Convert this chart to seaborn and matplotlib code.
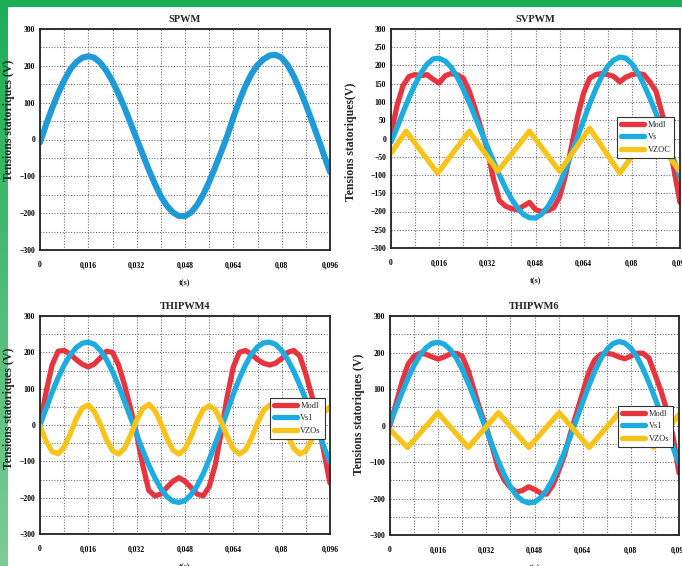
import matplotlib
matplotlib.use('Agg')
import matplotlib.pyplot as plt
import numpy as np
import pandas as pd
import seaborn as sns
from matplotlib.patches import Rectangle

# time grid (s), read every 2 ms off the curves
t = [round(i * 0.002, 3) for i in range(49)]

# SPWM
spwm_vs = [-8, 40, 85, 125, 160, 190, 210, 222, 226, 222, 208, 186, 158, 124, 86, 44,
           2, -40, -82, -120, -154, -180, -198, -208, -208, -198, -178, -150, -115, -75, -33, 10,
           60, 105, 145, 178, 202, 218, 228, 230, 222, 202, 172, 135, 95, 50, 5, -42, -88]

# SVPWM
svpwm_mod = [10, 90, 145, 170, 175, 172, 175, 162, 152, 172, 178, 175, 165, 130, 80, 25,
             -30, -110, -170, -185, -192, -195, -185, -175, -195, -200, -198, -190, -160, -100, -20, 60,
             125, 165, 175, 178, 175, 170, 155, 168, 175, 178, 175, 155, 130, 70, 0, -85, -175]
svpwm_vs = [-10, 30, 72, 112, 148, 180, 204, 218, 220, 212, 195, 168, 135, 98, 58, 18,
            -22, -62, -100, -135, -165, -190, -208, -217, -218, -208, -188, -160, -125, -85, -40, 5,
            50, 95, 135, 170, 198, 215, 223, 220, 205, 180, 148, 110, 70, 28, -15, -60, -105]
svpwm_zs_t = [0, 0.005, 0.0155, 0.026, 0.0355, 0.046, 0.056, 0.066, 0.076, 0.086, 0.096]
svpwm_zs = [-40, 20, -95, 20, -90, 20, -90, 28, -95, 20, -90]

# THIPWM4
thi4_mod = [0, 90, 165, 203, 205, 195, 180, 167, 160, 168, 185, 203, 200, 165, 110, 45,
            -25, -110, -180, -195, -190, -172, -155, -145, -155, -172, -190, -195, -170, -110, -20, 80,
            160, 200, 205, 195, 180, 170, 165, 170, 183, 200, 205, 190, 140, 80, 10, -75, -160]
thi4_vs = [0, 45, 90, 130, 165, 193, 213, 225, 228, 222, 205, 180, 147, 108, 65, 20,
           -25, -70, -110, -145, -175, -197, -210, -213, -208, -192, -168, -135, -95, -52, -8, 38,
           85, 128, 165, 195, 215, 226, 228, 222, 205, 180, 148, 110, 70, 28, -15, -60, -103]
thi4_zs = [-3, -44, -73, -79, -61, -24, 17, 47, 55, 37, 1, -40, -71, -80, -64, -28,
           13, 45, 57, 40, 5, -36, -69, -80, -66, -32, 9, 42, 53, 42, 9, -32,
           -66, -80, -69, -36, 5, 40, 55, 45, 13, -28, -64, -80, -71, -40, 1, 35, 50]

# THIPWM6
thi6_mod = [0, 60, 120, 168, 190, 198, 195, 188, 182, 188, 196, 198, 190, 150, 95, 40,
            -5, -60, -118, -150, -170, -182, -178, -168, -175, -185, -188, -165, -125, -80, -20, 35,
            90, 145, 180, 195, 198, 195, 188, 183, 190, 198, 198, 185, 140, 95, 40, -30, -130]
thi6_vs = [5, 48, 90, 130, 165, 193, 213, 225, 228, 223, 208, 185, 154, 116, 75, 32,
           -12, -56, -98, -136, -168, -192, -206, -212, -210, -198, -177, -148, -112, -72, -28, 18,
           64, 108, 148, 183, 208, 224, 230, 226, 212, 188, 156, 118, 76, 32, -14, -60, -105]
thi6_zs_t = [0, 0.0058, 0.0159, 0.026, 0.036, 0.0461, 0.0562, 0.0662, 0.0763, 0.0875, 0.096]
thi6_zs = [-12, -60, 35, -60, 35, -60, 35, -60, 37, -60, 30]

titles = ['SPWM', 'SVPWM', 'THIPWM4', 'THIPWM6']
ylabels = ['Tensions statoriques (V)', 'Tensions statoriques(V)',
           'Tensions statoriques (V)', 'Tensions statoriques (V)']
xtick_vals = [0, 0.016, 0.032, 0.048, 0.064, 0.08, 0.096]
xtick_labels = ['0', '0,016', '0,032', '0,048', '0,064', '0,08', '0,096']

RED = '#e8343e'
BLUE = '#1cace0'
BLUE_SPWM = '#1f9ad8'
YELLOW = '#f8c41a'

sns.set_theme(style='white')
plt.rcParams['font.family'] = ['Liberation Serif', 'DejaVu Serif']
plt.rcParams['xtick.direction'] = 'in'
plt.rcParams['ytick.direction'] = 'in'

fig = plt.figure(figsize=(6.82, 5.66), dpi=100)
fig.patch.set_facecolor('white')

# green frame (top band + left gradient band)
fig.patches.append(Rectangle((0, 1 - 7 / 566), 1, 7 / 566, transform=fig.transFigure,
                             facecolor='#1aae55', edgecolor='none', zorder=0))
band = fig.add_axes([0, 0, 8 / 682, 1])
grad = np.linspace(0, 1, 256).reshape(-1, 1)
band.imshow(grad, aspect='auto', cmap=matplotlib.colors.LinearSegmentedColormap.from_list(
    'g', ['#1aae55', '#7ecb96']), extent=[0, 1, 0, 1], origin='upper')
band.axis('off')

positions = [[40 / 682, 1 - 250 / 566, 290 / 682, 221 / 566],
             [391 / 682, 1 - 248 / 566, 289 / 682, 219 / 566],
             [40 / 682, 1 - 534 / 566, 290 / 682, 218 / 566],
             [390 / 682, 1 - 535 / 566, 289 / 682, 219 / 566]]
legend_anchor = [None, (0.782, 0.598), (0.793, 0.624), (0.789, 0.589)]
ylabel_xy = [(-0.085, 0.588), (-0.118, 0.484), (-0.085, 0.578), (-0.088, 0.55)]

axes = [fig.add_axes(p) for p in positions]

lw = 3.8
sns.lineplot(x=t, y=spwm_vs, ax=axes[0], color=BLUE_SPWM, lw=lw + 0.6, sort=False)

sns.lineplot(x=t, y=svpwm_mod, ax=axes[1], color=RED, lw=lw, sort=False, label='Modl')
sns.lineplot(x=t, y=svpwm_vs, ax=axes[1], color=BLUE, lw=lw, sort=False, label='Vs')
sns.lineplot(x=svpwm_zs_t, y=svpwm_zs, ax=axes[1], color=YELLOW, lw=lw, sort=False, label='VZOC')

sns.lineplot(x=t, y=thi4_mod, ax=axes[2], color=RED, lw=lw, sort=False, label='Modl')
sns.lineplot(x=t, y=thi4_vs, ax=axes[2], color=BLUE, lw=lw, sort=False, label='Vs1')
sns.lineplot(x=t, y=thi4_zs, ax=axes[2], color=YELLOW, lw=lw, sort=False, label='VZOs')

sns.lineplot(x=t, y=thi6_mod, ax=axes[3], color=RED, lw=lw, sort=False, label='Modl')
sns.lineplot(x=t, y=thi6_vs, ax=axes[3], color=BLUE, lw=lw, sort=False, label='Vs1')
sns.lineplot(x=thi6_zs_t, y=thi6_zs, ax=axes[3], color=YELLOW, lw=lw, sort=False, label='VZOs')

for i, ax in enumerate(axes):
    ax.set_xlim(0, 0.096)
    ax.set_ylim(-300, 300)
    ax.set_xticks(xtick_vals)
    ax.set_xticklabels(xtick_labels)
    ax.set_xticks(np.arange(0, 0.0961, 0.008), minor=True)
    if i == 1:
        ax.set_yticks(np.arange(-300, 301, 50))
    else:
        ax.set_yticks(np.arange(-300, 301, 100))
        ax.set_yticks(np.arange(-300, 301, 50), minor=True)
    ax.grid(True, which='both', ls=(0, (1, 1.5)), color='#707070', lw=0.8)
    ax.tick_params(which='both', labelsize=5.5, length=2.5, width=0.8, colors='black')
    ax.tick_params(axis='x', which='both', pad=8)
    ax.tick_params(axis='y', which='both', pad=3.5)
    for lab in ax.get_xticklabels() + ax.get_yticklabels():
        lab.set_fontweight('bold')
    for s in ax.spines.values():
        s.set_color('#222222')
        s.set_linewidth(1.3)
    ax.set_facecolor('white')
    ax.set_title(titles[i], fontsize=7.5, fontweight='bold', pad=5)
    ax.set_xlabel('t(s)', fontsize=6, fontweight='bold', labelpad=7)
    ax.set_ylabel(ylabels[i], fontsize=8.5, fontweight='bold')
    ax.yaxis.set_label_coords(*ylabel_xy[i])
    if legend_anchor[i] is not None:
        leg = ax.legend(loc='upper left', bbox_to_anchor=legend_anchor[i], borderaxespad=0,
                        fontsize=6, handlelength=2.8, handletextpad=0.4, borderpad=0.45,
                        labelspacing=0.55, fancybox=False, framealpha=1, edgecolor='#333333')
        leg.get_frame().set_linewidth(0.8)

fig.savefig('out.png', dpi=100, facecolor='white')
